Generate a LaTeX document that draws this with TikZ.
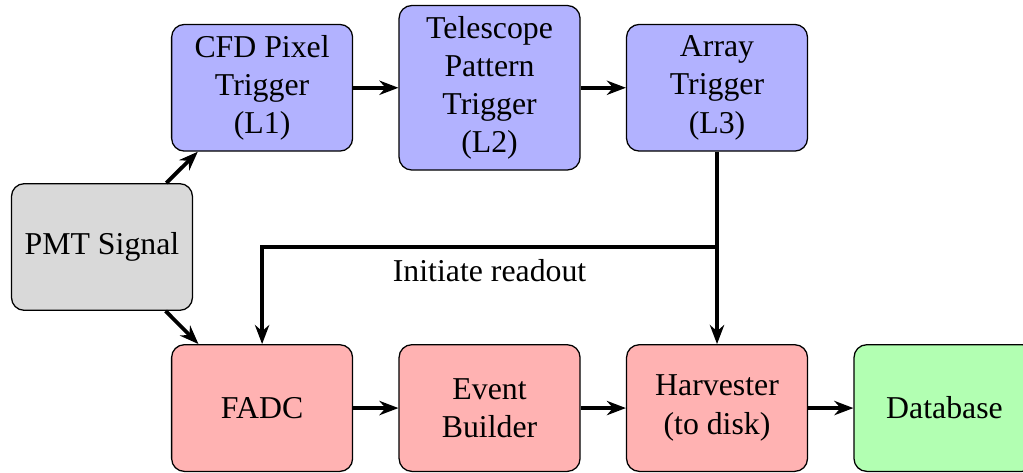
\documentclass[tikz,border=0pt]{standalone}
\usepackage{fontspec}
\setmainfont{Liberation Serif}
\usetikzlibrary{positioning,arrows.meta}

\begin{document}
\begin{tikzpicture}[
  node distance=0.5cm,
  block/.style={rectangle, draw, thin, rounded corners, minimum width=2cm, minimum height=1.4cm, align=center},
  signal/.style={block, fill=gray!30},
  trigger/.style={block, fill=blue!30},
  readout/.style={block, fill=red!30},
  storage/.style={block, fill=green!30},
  ->, >={Stealth[length=6pt,width=4.5pt]}, very thick
]
\useasboundingbox (-1.127,-2.49) rectangle (10.18,2.73);
\node[signal] (pmt) {PMT Signal};
\node[trigger] (cfd) at (1.77,1.76) {CFD Pixel\\Trigger\\(L1)};
\node[trigger, right=of cfd] (pattern) {Telescope\\Pattern\\Trigger\\(L2)};
\node[trigger, right=of pattern] (array) {Array\\Trigger\\(L3)};
\node[readout] (fadc) at (1.77,-1.78) {FADC};
\node[readout, right=of fadc] (builder) {Event\\Builder};
\node[readout, right=of builder] (harvester) {Harvester\\(to disk)};
\node[storage, right=of harvester] (db) {Database};

\draw (pmt) -- (cfd);
\draw (pmt) -- (fadc);
\draw (cfd) -- (pattern);
\draw (pattern) -- (array);
\draw (array) -- (harvester);
\draw (array.south |- pmt) -| node[pos=0.25, below] {Initiate readout} (fadc);
\draw (fadc) -- (builder);
\draw (builder) -- (harvester);
\draw (harvester) -- (db);
\end{tikzpicture}
\end{document}
